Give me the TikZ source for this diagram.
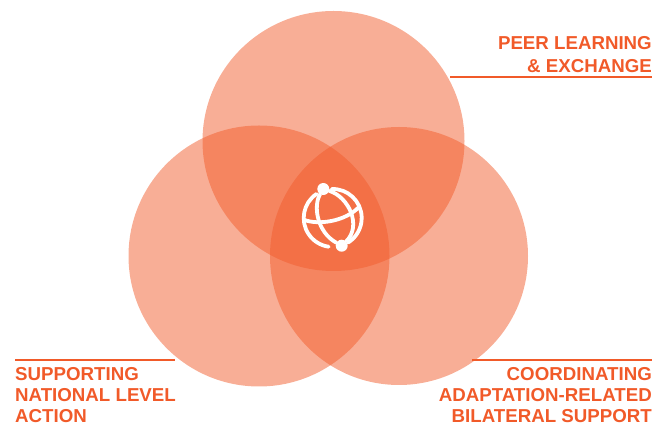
\documentclass[tikz,border=0pt]{standalone}
\usepackage{fontspec}
\setmainfont{Liberation Sans}
\definecolor{orangeA}{HTML}{F15A29}
\tikzset{
  venn/.style={fill=orangeA,fill opacity=.49},
  rule/.style={draw=orangeA,line width=2.6pt},
  lbl/.style={text=orangeA,font=\fontsize{18.7}{23}\selectfont\bfseries,inner sep=0pt},
  globe/.style={draw=white,line width=3.8pt,line cap=round},
  hub/.style={circle,fill=white,inner sep=0pt,minimum size=12pt},
}
\begin{document}
\begin{tikzpicture}[x=1pt,y=-1pt]
 \useasboundingbox (0,0) rectangle (667,427);
 \fill[venn] (333.5,141) ellipse [x radius=131,y radius=130];
 \fill[venn] (259,256) circle (130.5);
 \fill[venn] (399,256) circle (129);
 % labels
 \node[lbl,anchor=base east] (peer) at (652,49.5) {PEER LEARNING};
 \node[lbl,anchor=base east] (exchange) at (652,72.5) {\& EXCHANGE};
 \node[lbl,anchor=base west] (supporting) at (15,380.5) {SUPPORTING};
 \node[lbl,anchor=base west] (national) at (15,401.5) {NATIONAL LEVEL};
 \node[lbl,anchor=base west] (action) at (15,422.5) {ACTION};
 \node[lbl,anchor=base east] (coordinating) at (652,380.5) {COORDINATING};
 \node[lbl,anchor=base east] (adaptation) at (652,401.5) {ADAPTATION-RELATED};
 \node[lbl,anchor=base east] (bilateral) at (652,422.5) {BILATERAL SUPPORT};
 \coordinate (peerend) at (450,77);
 \coordinate (nationalend) at (175,360);
 \coordinate (bilateralend) at (472,360);
 \draw[rule] (peerend) -- (652,77);
 \draw[rule] (15,360) -- (nationalend);
 \draw[rule] (bilateralend) -- (652,360);
 % icon
 \node[hub] (hubA) at (323.3,189) {};
 \node[hub] (hubB) at (341.7,245.7) {};
 \draw[globe] (332.7,218) ++(-92:29) arc[start angle=-92,end angle=58,radius=29];
 \draw[globe] (332.7,218) ++(-124:29) arc[start angle=-124,end angle=-262,radius=29];
 \draw[globe] (hubA) .. controls (313,206) and (317,232) .. (hubB);
 \draw[globe] (hubA) .. controls (349,197) and (362,226) .. (hubB);
 \draw[globe] (304.5,220) .. controls (318,225) and (345,222) .. (359.5,206.5);
\end{tikzpicture}
\end{document}
